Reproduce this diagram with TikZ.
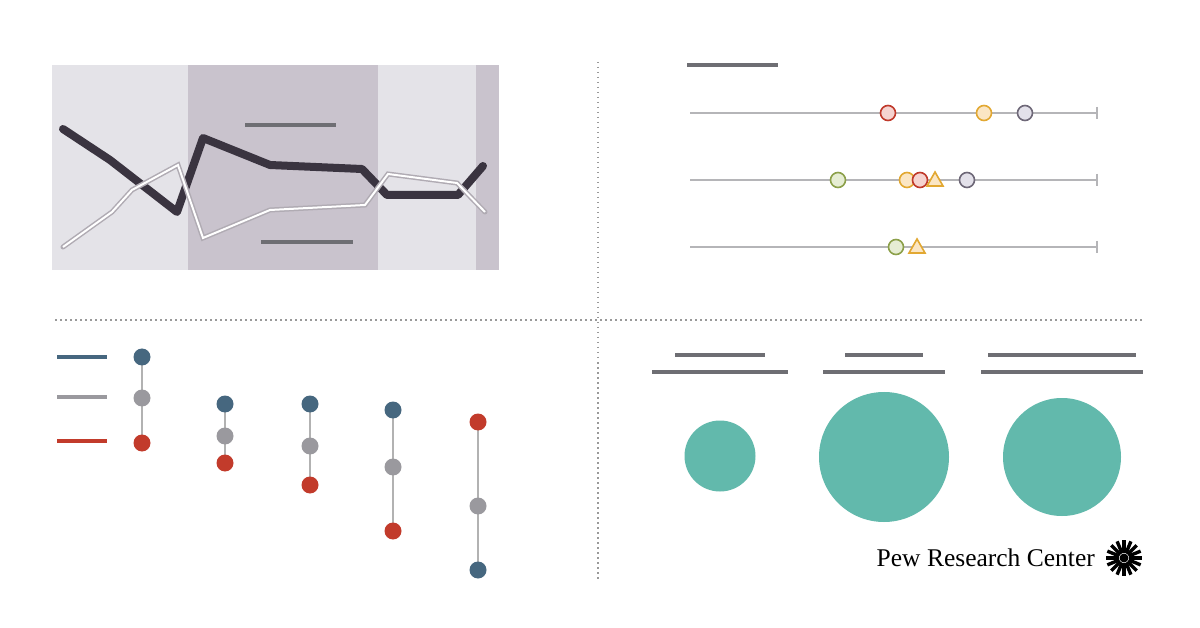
\documentclass[tikz,border=0pt]{standalone}
\usepackage{fontspec}
\setmainfont{Liberation Serif}
\begin{document}
\begin{tikzpicture}[x=1pt,y=-1pt,
  bar/.style={line width=4pt,draw=barc},
  axis/.style={draw=axc,line width=1.4pt},
  dotm/.style={circle,inner sep=0pt,minimum size=15pt,line width=1.6pt},
  seg/.style={draw=gray!60,line width=1.5pt},
  bub/.style={circle,fill=teal1,inner sep=0pt}]
\definecolor{bgl}{HTML}{E4E3E8}\definecolor{bgd}{HTML}{C9C3CD}
\definecolor{dk}{HTML}{3A3440}\definecolor{lt}{HTML}{B0ABB3}
\definecolor{barc}{HTML}{6E6E73}\definecolor{axc}{HTML}{B5B5B8}
\definecolor{cb}{HTML}{46677F}\definecolor{cg}{HTML}{9A999E}\definecolor{cr}{HTML}{C23B2B}
\definecolor{teal1}{HTML}{62B9AC}
\definecolor{rd}{HTML}{C0392B}\definecolor{rdf}{HTML}{F5D3D0}
\definecolor{yl}{HTML}{E2A832}\definecolor{ylf}{HTML}{FBE6C4}
\definecolor{pu}{HTML}{6E6878}\definecolor{puf}{HTML}{E3E1EA}
\definecolor{gr}{HTML}{8CA04A}\definecolor{grf}{HTML}{E6EDD3}
\useasboundingbox (0,0) rectangle (1200,628);
\fill[white] (0,0) rectangle (1200,628);
% top-left chart
\fill[bgl] (52,65) rectangle (188,270);
\fill[bgd] (188,65) rectangle (378,270);
\fill[bgl] (378,65) rectangle (476,270);
\fill[bgd] (476,65) rectangle (499,270);
\draw[bar] (245,125) -- (336,125);
\draw[bar] (261,242) -- (353,242);
\draw[dk,line width=8pt,line cap=round,line join=round] (63,129) -- (110,160) -- (177,212) -- (203,138) -- (270,165) -- (362,169) -- (387,195) -- (458,195) -- (483,166);
\draw[lt,line width=5pt,line cap=round,line join=miter] (63,247) -- (112,212) -- (132,190) -- (178,165) -- (203,238) -- (270,210) -- (365,205) -- (388,174) -- (457,183) -- (485,212);
\draw[white,line width=2pt,line join=miter] (63,247) -- (112,212) -- (132,190) -- (178,165) -- (203,238) -- (270,210) -- (365,205) -- (388,174) -- (457,183) -- (485,212);
% dividers
\draw[gray!80,line width=1.5pt,dash pattern=on 1.5pt off 3.5pt] (598,62) -- (598,580);
\draw[gray!80,line width=1.5pt,dash pattern=on 1.5pt off 3.5pt] (55,320) -- (1145,320);
% top-right
\draw[bar] (687,65) -- (778,65);
\foreach \y in {113,180,247}{\draw[axis] (690,\y) -- (1097,\y); \draw[axis] (1097,\y-6) -- (1097,\y+6);}
\node[dotm,draw=rd,fill=rdf] (a1) at (888,113) {};
\node[dotm,draw=yl,fill=ylf] (a2) at (984,113) {};
\node[dotm,draw=pu,fill=puf] (a3) at (1025,113) {};
\node[dotm,draw=gr,fill=grf] (b1) at (838,180) {};
\node[dotm,draw=yl,fill=ylf] (b2) at (907,180) {};
\node[dotm,draw=rd,fill=rdf] (b3) at (920,180) {};
\draw[yl,fill=ylf,line width=1.6pt] (935,172) -- (943,186) -- (927,186) -- cycle;
\node[dotm,draw=pu,fill=puf] (b5) at (967,180) {};
\node[dotm,draw=gr,fill=grf] (c1) at (896,247) {};
\draw[yl,fill=ylf,line width=1.6pt] (917,239) -- (925,253) -- (909,253) -- cycle;
% bottom-left
\draw[cb,line width=4pt] (57,357) -- (107,357);
\draw[cg,line width=4pt] (57,397) -- (107,397);
\draw[cr,line width=4pt] (57,441) -- (107,441);
\foreach \x/\b/\g/\r in {142/357/398/443,225/404/436/463,310/404/446/485,393/410/467/531,478/570/506/422}{
  \draw[seg] (\x,\b) -- (\x,\r);
  \fill[cb] (\x,\b) circle (8.5);
  \fill[cg] (\x,\g) circle (8.5);
  \fill[cr] (\x,\r) circle (8.5);}
% bottom-right
\draw[bar] (675,355) -- (765,355); \draw[bar] (652,372) -- (788,372);
\draw[bar] (845,355) -- (923,355); \draw[bar] (823,372) -- (945,372);
\draw[bar] (988,355) -- (1136,355); \draw[bar] (981,372) -- (1143,372);
\node[bub,minimum size=71pt] (p1) at (720,456) {};
\node[bub,minimum size=130pt] (p2) at (884,457) {};
\node[bub,minimum size=118pt] (p3) at (1062,457) {};
% logo
\node[anchor=east,inner sep=0pt,font=\fontsize{25.5}{25}\selectfont] (logo) at (1095,558) {Pew Research Center};
\foreach \a in {0,22.5,...,340}{\draw[black,line width=3.4pt] (1124,558) ++(\a:5) -- ++(\a:13);}
\fill[black] (1124,558) circle (4.5);
\end{tikzpicture}
\end{document}
